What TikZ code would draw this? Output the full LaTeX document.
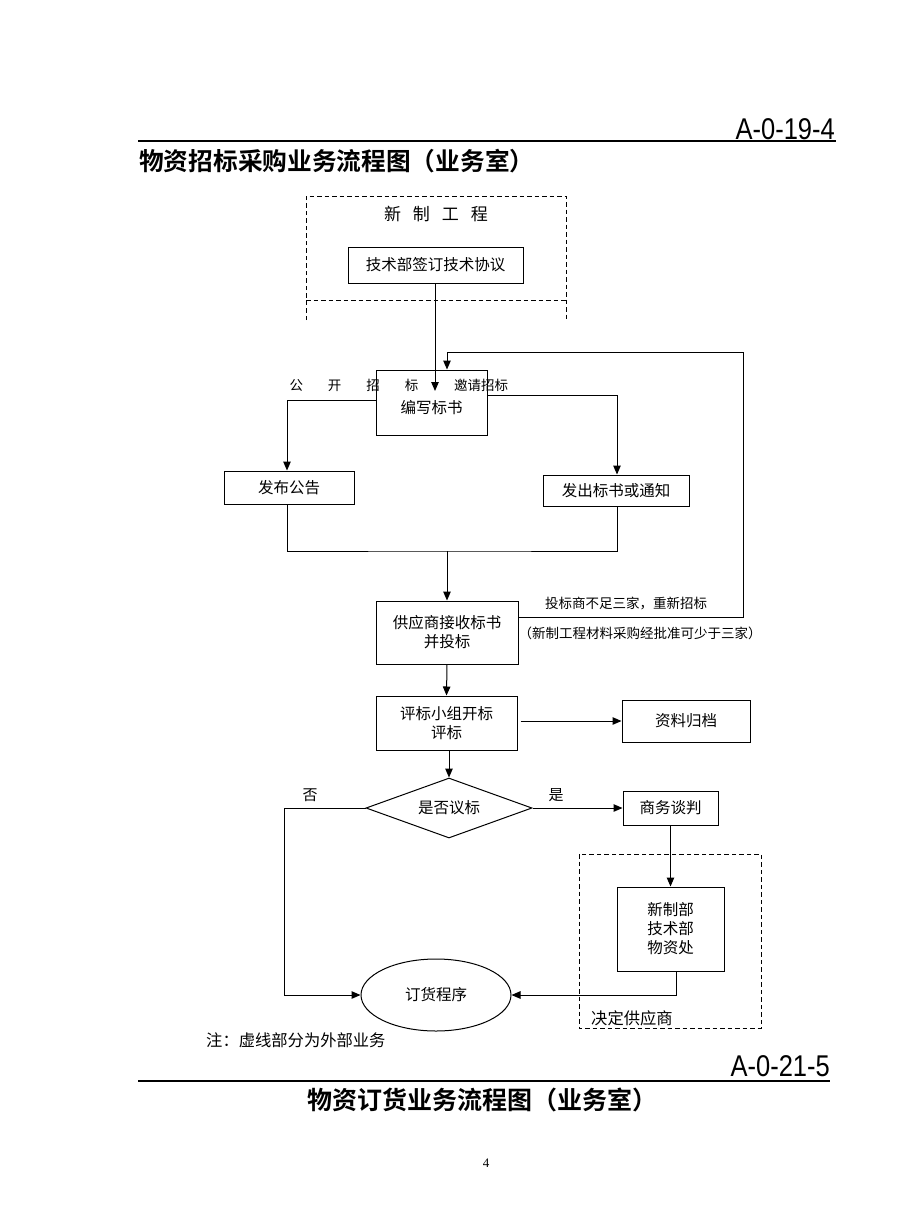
\documentclass[tikz,border=0pt]{standalone}
\usepackage{fontspec}
\usepackage{tikz}
\usetikzlibrary{arrows.meta,shapes.geometric}
\newfontfamily\cjk{Noto Sans CJK SC}
\newfontfamily\cjkb{Noto Sans CJK SC Bold}
\newfontfamily\codefont{Liberation Sans}
\newfontfamily\pgfont{Liberation Serif}

\begin{document}
\begin{tikzpicture}[x=1pt,y=-1pt,
  box/.style={draw, line width=1pt, inner sep=0pt, font=\cjk\fontsize{15.5}{19}\selectfont, align=center},
  lbl/.style={inner sep=0pt, font=\cjk\fontsize{13.5}{16}\selectfont},
  arr/.style={line width=1pt, -{Triangle[length=9pt,width=7.5pt]}},
  ln/.style={line width=1pt},
  dsh/.style={line width=1pt, dash pattern=on 4.5pt off 3pt}]
\useasboundingbox (0,0) rectangle (920,1227);

% header
\node[anchor=east, inner sep=0pt, font=\codefont\fontsize{30}{32}\selectfont, xscale=0.85] (code1) at (835,129) {A-0-19-4};
\draw[line width=1.3pt] (138,141) -- (836,141);
\node[anchor=west, inner sep=0pt, font=\cjkb\fontsize{24.7}{28}\selectfont] (title1) at (139,161) {物资招标采购业务流程图（业务室）};

% new project (dashed)
\draw[dsh] (306,320) -- (306,196) -- (566,196) -- (566,320);
\draw[dsh] (306,300) -- (566,300);
\node[inner sep=0pt, font=\cjk\fontsize{17}{20}\selectfont] (xzgc) at (436,214) {新\hspace{12pt}制\hspace{12pt}工\hspace{12pt}程};
\node[box, minimum width=175pt, minimum height=36pt] (jsxy) at (435.5,265) {技术部签订技术协议};

% tender
\node[box, minimum width=111pt, minimum height=65pt] (bxbs) at (431.5,402.5) {};
\node[inner sep=0pt, font=\cjk\fontsize{15.5}{19}\selectfont] (bxbst) at (431.5,408) {编写标书};
\coordinate (tip) at (435,391);
\draw[arr] (jsxy.south -| tip) -- (tip);
\node[lbl] (gkzb) at (354,385) {公\hspace{25pt}开\hspace{25pt}招\hspace{25pt}标};
\node[lbl] (yqzb) at (481,385) {邀请招标};

\node[box, minimum width=130pt, minimum height=33pt] (fbgg) at (289,487.5) {发布公告};
\node[box, minimum width=146pt, minimum height=31pt] (fcbs) at (616,490.5) {发出标书或通知};
\draw[arr] ([yshift=2.5pt]bxbs.west) -| (fbgg.north -| 287,0);
\draw[arr] ([yshift=7.5pt]bxbs.east) -| (fcbs.north -| 617,0);

\coordinate (hb) at (447,551);
\draw[ln] (fbgg.south -| 287,0) |- (hb) -| (fcbs.south -| 617,0);

\node[box, minimum width=142pt, minimum height=63pt] (gys) at (447,632.5) {供应商接收标书\\并投标};
\draw[arr] (hb) -- (gys.north);

% re-tender loop
\coordinate (rt) at (743,352);
\draw[arr] ([yshift=15.5pt]gys.east) -| (rt) -| ([xshift=15.5pt]bxbs.north);
\node[lbl] (bzsj) at (626,603) {投标商不足三家，重新招标};
\node[lbl] (pzsj) at (640,633) {（新制工程材料采购经批准可少于三家）};

% evaluation
\node[box, minimum width=141pt, minimum height=54pt] (pb) at (446.5,723) {评标小组开标\\评标};
\draw[arr] (gys.south) -- (pb.north);
\node[box, minimum width=128pt, minimum height=42pt] (zlgd) at (686,721) {资料归档};
\draw[arr] ([xshift=3pt]pb.east |- zlgd.west) -- (zlgd.west);

\node[draw, line width=1pt, shape=diamond, aspect=2.77, inner sep=0pt, minimum width=166pt, minimum height=60pt,
  font=\cjk\fontsize{15.5}{19}\selectfont] (yb) at (449,808) {是否议标};
\draw[arr] (pb.south -| yb.north) -- (yb.north);
\node[lbl, font=\cjk\fontsize{15}{18}\selectfont] (fou) at (310,795) {否};
\node[lbl, font=\cjk\fontsize{15}{18}\selectfont] (shi) at (556,795) {是};

\node[box, minimum width=95pt, minimum height=34pt] (swtp) at (670.5,808) {商务谈判};
\draw[arr] (yb.east) -- (swtp.west);

% supplier decision (dashed)
\draw[dsh] (579,854) rectangle (761,1028);
\node[lbl, anchor=west, font=\cjk\fontsize{16.3}{19}\selectfont] (jdgys) at (591,1018) {决定供应商};
\node[box, minimum width=107pt, minimum height=84pt] (xzb) at (670.5,929) {新制部\\技术部\\物资处};
\draw[arr] (swtp.south) -- (xzb.north);

\node[draw, line width=1pt, shape=ellipse, inner sep=0pt, minimum width=150pt, minimum height=72pt,
  font=\cjk\fontsize{15.5}{19}\selectfont] (dh) at (436,995) {订货程序};
\draw[arr] ([xshift=6pt]xzb.south) |- (dh.east);
\draw[arr] (yb.west) -- ++(-81,0) |- (dh.west);

\node[anchor=west, inner sep=0pt, font=\cjk\fontsize{16.3}{19}\selectfont] (note) at (206,1040) {注：虚线部分为外部业务};

% footer
\node[anchor=east, inner sep=0pt, font=\codefont\fontsize{30}{32}\selectfont, xscale=0.85] (code2) at (830,1066) {A-0-21-5};
\draw[line width=1.3pt] (138,1081) -- (830,1081);
\node[inner sep=0pt, font=\cjkb\fontsize{25}{28}\selectfont] (title2) at (482,1100) {物资订货业务流程图（业务室）};
\node[inner sep=0pt, font=\pgfont\fontsize{13}{15}\selectfont] (pg) at (486,1163) {4};
\end{tikzpicture}
\end{document}
